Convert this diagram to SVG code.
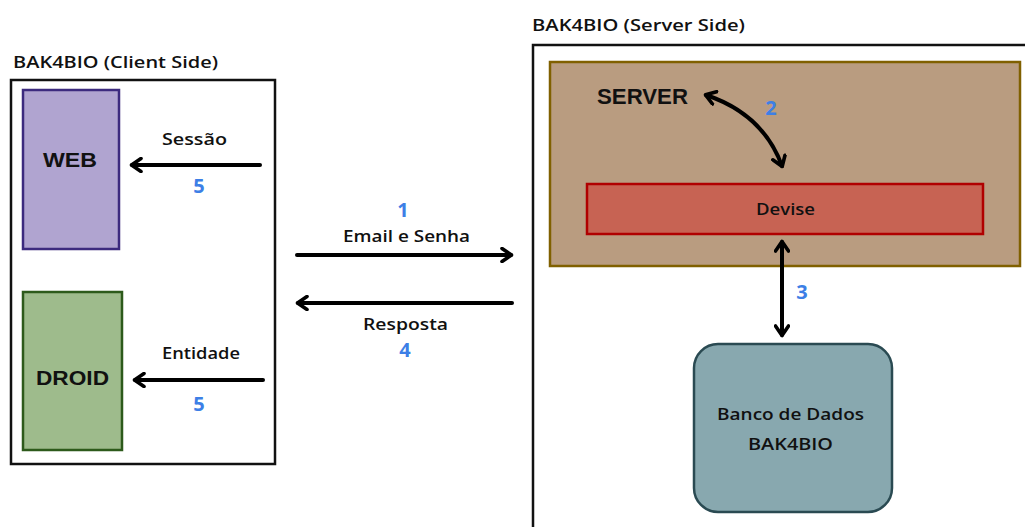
<svg xmlns="http://www.w3.org/2000/svg" width="1025" height="527" viewBox="0 0 1025 527">
  <defs>
    <style>
      .t { font-family: "Open Sans", "Liberation Sans", sans-serif; font-weight: 600; fill: #111; }
      .big { font-family: "Liberation Sans", Arial, sans-serif; font-weight: 700; fill: #111; }
      .num { font-family: "Open Sans", "Liberation Sans", sans-serif; font-weight: 700; fill: #3d7fe6; font-size: 20px; text-anchor: middle; }
      .frame { fill: #fff; stroke: #111; stroke-width: 2.5; }
      .link { fill: none; stroke: #000; stroke-width: 4; stroke-linecap: round; }
    </style>
    <marker id="head" viewBox="0 0 14 16" refX="11" refY="8" markerWidth="14" markerHeight="16" markerUnits="userSpaceOnUse" orient="auto-start-reverse">
      <path d="M2,1.5 L11.5,8 L2,14.5" fill="none" stroke="#000" stroke-width="3.6" stroke-linecap="round" stroke-linejoin="round"/>
    </marker>
  </defs>

  <rect width="1025" height="527" fill="#fff"/>

  <!-- client side frame -->
  <g id="client-side">
    <text class="t" x="13" y="68" font-size="17" textLength="205" lengthAdjust="spacingAndGlyphs">BAK4BIO (Client Side)</text>
    <rect class="frame" x="11" y="80" width="264" height="384"/>
  </g>

  <g id="web">
    <rect x="23" y="90" width="96" height="159" fill="#b0a4d0" stroke="#3c2a7e" stroke-width="2.5"/>
    <text class="big" x="43" y="167" font-size="21" textLength="54" lengthAdjust="spacingAndGlyphs">WEB</text>
  </g>

  <g id="droid">
    <rect x="23" y="292" width="99" height="158" fill="#9ebb8c" stroke="#2d5a1b" stroke-width="2.5"/>
    <text class="big" x="36" y="385" font-size="21" textLength="73" lengthAdjust="spacingAndGlyphs">DROID</text>
  </g>

  <!-- server side frame, runs past the right and bottom edges -->
  <g id="server-side">
    <text class="t" x="532" y="31" font-size="17" textLength="213" lengthAdjust="spacingAndGlyphs">BAK4BIO (Server Side)</text>
    <rect class="frame" x="533" y="45" width="520" height="500"/>
  </g>

  <g id="server">
    <rect x="550" y="62" width="470" height="204" fill="#b99c80" stroke="#806000" stroke-width="2.5"/>
    <text class="big" x="597" y="104" font-size="22" textLength="91" lengthAdjust="spacingAndGlyphs">SERVER</text>
  </g>

  <g id="devise">
    <rect x="587" y="184" width="396" height="50" fill="#c76353" stroke="#b00000" stroke-width="2.5"/>
    <text class="t" x="756" y="215" font-size="17" textLength="59" lengthAdjust="spacingAndGlyphs">Devise</text>
  </g>

  <g id="database">
    <rect x="694" y="344" width="198" height="168" rx="24" ry="24" fill="#88a8af" stroke="#2a4a52" stroke-width="2.5"/>
    <text class="t" x="717" y="420" font-size="17" textLength="147" lengthAdjust="spacingAndGlyphs">Banco de Dados</text>
    <text class="t" x="748" y="450" font-size="17" textLength="85" lengthAdjust="spacingAndGlyphs">BAK4BIO</text>
  </g>

  <!-- connectors -->
  <g id="connectors">
    <line class="link" x1="260" y1="165" x2="132" y2="165" marker-end="url(#head)"/>
    <line class="link" x1="263" y1="380" x2="135" y2="380" marker-end="url(#head)"/>
    <line class="link" x1="297" y1="255" x2="511" y2="255" marker-end="url(#head)"/>
    <line class="link" x1="512" y1="303" x2="298" y2="303" marker-end="url(#head)"/>
    <path class="link" d="M706,95 Q763,114 782,166" marker-start="url(#head)" marker-end="url(#head)"/>
    <line class="link" x1="782" y1="242" x2="782" y2="335" marker-start="url(#head)" marker-end="url(#head)"/>

    <text class="t" x="162" y="145" font-size="16" textLength="65" lengthAdjust="spacingAndGlyphs">Sessão</text>
    <text class="num" x="199" y="193">5</text>
    <text class="t" x="162" y="359" font-size="16" textLength="78" lengthAdjust="spacingAndGlyphs">Entidade</text>
    <text class="num" x="199" y="411">5</text>

    <text class="num" x="403" y="217">1</text>
    <text class="t" x="343" y="242" font-size="16" textLength="127" lengthAdjust="spacingAndGlyphs">Email e Senha</text>
    <text class="t" x="363" y="330" font-size="16" textLength="85" lengthAdjust="spacingAndGlyphs">Resposta</text>
    <text class="num" x="405" y="357">4</text>

    <text class="num" x="771" y="115">2</text>
    <text class="num" x="802" y="299">3</text>
  </g>
</svg>
